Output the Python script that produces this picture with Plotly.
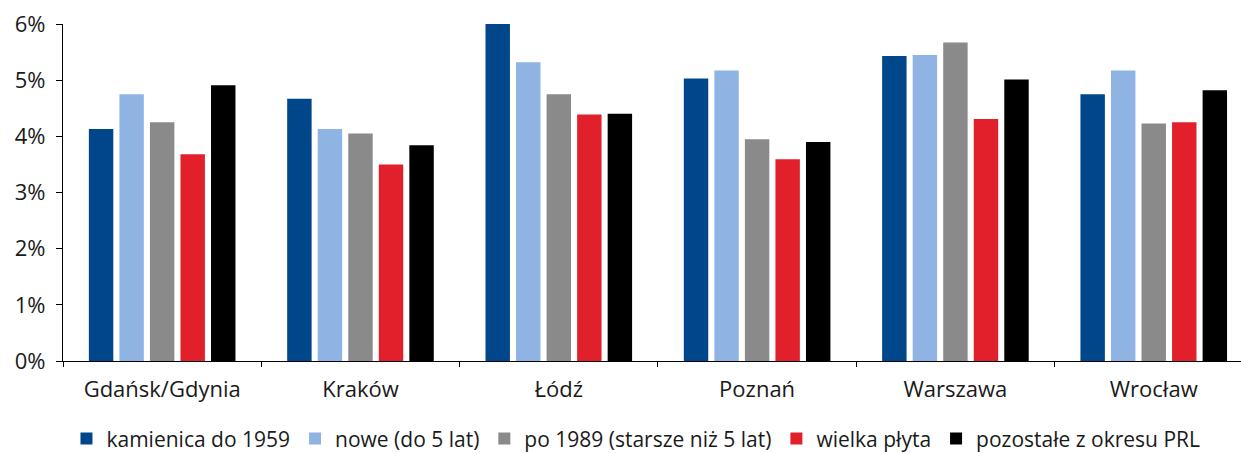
import plotly.graph_objects as go

cities = ["Gdańsk/Gdynia", "Kraków", "Łódź", "Poznań", "Warszawa", "Wrocław"]

kamienica = [4.13, 4.67, 6.00, 5.03, 5.43, 4.75]
nowe = [4.75, 4.13, 5.32, 5.17, 5.45, 5.17]
po1989 = [4.25, 4.05, 4.75, 3.95, 5.67, 4.23]
wielka_plyta = [3.68, 3.50, 4.39, 3.59, 4.31, 4.25]
prl = [4.91, 3.84, 4.40, 3.90, 5.01, 4.82]

series_names = [
    "kamienica do 1959",
    "nowe (do 5 lat)",
    "po 1989 (starsze niż 5 lat)",
    "wielka płyta",
    "pozostałe z okresu PRL",
]
series_values = [kamienica, nowe, po1989, wielka_plyta, prl]
colors = ["#00468B", "#8FB4E3", "#8A8A8A", "#E2202C", "#000000"]

y_ticks = [0, 1, 2, 3, 4, 5, 6]
y_ticklabels = ["0%", "1%", "2%", "3%", "4%", "5%", "6%"]

FONT = "Open Sans"
FS = 22
LFS = 21
TXT = "#1a1a1a"

fig = go.Figure()
for name, vals, col in zip(series_names, series_values, colors):
    fig.add_trace(go.Bar(
        x=cities, y=vals, name=name,
        marker=dict(color=col, line=dict(width=0)),
    ))

fig.update_layout(
    width=1241, height=453, autosize=False,
    margin=dict(l=63, r=0, t=24, b=92, pad=0),
    paper_bgcolor="white", plot_bgcolor="white",
    barmode="group", bargap=0.23, bargroupgap=0.2,
    font=dict(family=FONT, size=FS, color=TXT),
    showlegend=True,
    legend=dict(
        orientation="h", x=0.4864, xanchor="center",
        yref="container", y=0.031, yanchor="middle",
        font=dict(family=FONT, size=LFS, color=TXT),
        itemwidth=30, tracegroupgap=0,
    ),
    xaxis=dict(
        type="category", range=[-0.5, 5.44],
        showline=True, linecolor="black", linewidth=1.3,
        ticks="outside", ticklen=5, tickcolor="black", tickwidth=1.3,
        tickson="boundaries", showgrid=False, zeroline=False,
        ticklabelstandoff=8,
        tickfont=dict(family=FONT, size=FS, color=TXT),
    ),
    yaxis=dict(
        range=[0, 6], tickmode="array", tickvals=y_ticks, ticktext=y_ticklabels,
        showline=True, linecolor="black", linewidth=1.3,
        ticks="outside", ticklen=6, tickcolor="black", tickwidth=1.3,
        showgrid=False, zeroline=False,
        ticklabelstandoff=6,
        tickfont=dict(family=FONT, size=FS, color=TXT),
    ),
)

fig.write_html(
    "out.html",
    config={"displayModeBar": False},
    post_script="document.body.style.margin='0';",
)
